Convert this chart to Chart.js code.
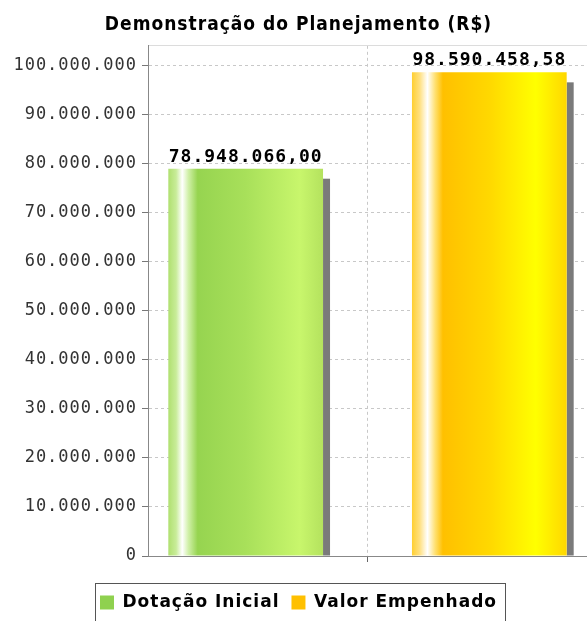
<!DOCTYPE html>
<html lang="pt-BR">
<head>
<meta charset="utf-8">
<title>Demonstração do Planejamento (R$)</title>
<script src="https://cdn.jsdelivr.net/npm/chart.js@4.4.1/dist/chart.umd.min.js"></script>
<style>
  html, body { margin: 0; padding: 0; background: #fff; }
  #wrap { position: relative; width: 587px; height: 621px; overflow: hidden; }
</style>
</head>
<body>
<div id="wrap"><canvas id="plano"></canvas></div>
<script>
// dados
const chartTitle = 'Demonstração do Planejamento (R$)';
const categories = [''];
const seriesNames = ['Dotação Inicial', 'Valor Empenhado'];
const seriesValues = [78948066.00, 98590458.58];
const tickValues = [0, 10000000, 20000000, 30000000, 40000000, 50000000,
                    60000000, 70000000, 80000000, 90000000, 100000000];
const axisMax = 104000000;

const legendColors = ['#8fd14f', '#ffc000'];
const gradientStops = [
    [[0, '#b0e070'], [0.05, '#c8ec98'], [0.09, '#ffffff'], [0.13, '#d0f0a8'], [0.19, '#96d450'],
     [0.5, '#a8e05a'], [0.85, '#c8f66c'], [1, '#b4e25e']],
    [[0, '#ffcf30'], [0.05, '#ffe080'], [0.1, '#ffffff'], [0.15, '#ffe070'], [0.2, '#ffc000'],
     [0.5, '#ffd800'], [0.8, '#ffff00'], [1, '#ffd700']]
];
const catPct = 1.11;
const barPct = 0.635;

function groupThousands(intStr) {
    return intStr.replace(/\B(?=(\d{3})+(?!\d))/g, '.');
}

function formatReal(v) {
    const parts = v.toFixed(2).split('.');
    return groupThousands(parts[0]) + ',' + parts[1];
}

const isFrame = (c) => !!(c.tick && c.tick.value === axisMax);

// degradê horizontal de cada barra, a partir da escala x
function barFill(i) {
    return (ctx) => {
        const chart = ctx.chart;
        const xs = chart.scales.x;
        if (ctx.type !== 'data' || !xs || !chart.chartArea) return legendColors[i];
        const slot = xs.width * catPct / seriesNames.length;
        const center = xs.getPixelForValue(ctx.dataIndex) - xs.width * catPct / 2 + slot * (i + 0.5);
        const w = slot * barPct;
        const g = chart.ctx.createLinearGradient(center - w / 2, 0, center + w / 2, 0);
        gradientStops[i].forEach(([o, c]) => g.addColorStop(o, c));
        return g;
    };
}

// espaçamento das letras como no original
const spacingPlugin = {
    id: 'spacing',
    beforeUpdate(chart) { chart.ctx.letterSpacing = '1px'; },
    beforeDraw(chart) { chart.ctx.letterSpacing = '1px'; }
};

// sombra cinza à direita das barras
const shadowPlugin = {
    id: 'shadow',
    beforeDatasetsDraw(chart) {
        const ctx = chart.ctx;
        ctx.save();
        ctx.fillStyle = '#7a7a7a';
        chart.data.datasets.forEach((ds, i) => {
            chart.getDatasetMeta(i).data.forEach((bar, j) => {
                if (ds.data[j] == null) return;
                const { x, y, base, width } = bar.getProps(['x', 'y', 'base', 'width'], true);
                ctx.fillRect(x + width / 2, y + 10, 7, base - y - 10);
            });
        });
        ctx.restore();
    }
};

// valores acima das barras
const valueLabelPlugin = {
    id: 'valueLabels',
    afterDatasetsDraw(chart) {
        const ctx = chart.ctx;
        ctx.save();
        ctx.font = 'bold 18px "DejaVu Sans Mono"';
        ctx.fillStyle = '#000';
        ctx.textAlign = 'center';
        ctx.textBaseline = 'alphabetic';
        chart.data.datasets.forEach((ds, i) => {
            chart.getDatasetMeta(i).data.forEach((bar, j) => {
                if (ds.data[j] == null) return;
                const { x, y } = bar.getProps(['x', 'y'], true);
                ctx.fillText(formatReal(ds.data[j]), x, y - 7);
            });
        });
        ctx.restore();
    }
};

// moldura da legenda
const legendBoxPlugin = {
    id: 'legendBox',
    afterDraw(chart) {
        const lg = chart.legend;
        if (!lg || !lg.legendHitBoxes || !lg.legendHitBoxes.length) return;
        const boxes = lg.legendHitBoxes;
        const left = boxes[0].left - 5;
        const last = boxes[boxes.length - 1];
        const right = last.left + last.width + 8;
        const top = boxes[0].top - 11;
        const ctx = chart.ctx;
        ctx.save();
        ctx.strokeStyle = '#555';
        ctx.lineWidth = 1;
        ctx.strokeRect(Math.round(left) + 0.5, Math.round(top) + 0.5, Math.round(right - left), 60);
        ctx.restore();
    }
};

const datasets = seriesNames.map((name, i) => ({
    label: name,
    data: [seriesValues[i]],
    backgroundColor: barFill(i),
    borderWidth: 0,
    categoryPercentage: catPct,
    barPercentage: barPct
}));

new Chart(document.getElementById('plano'), {
    type: 'bar',
    data: { labels: categories, datasets },
    plugins: [spacingPlugin, shadowPlugin, valueLabelPlugin, legendBoxPlugin],
    options: {
        responsive: true,
        maintainAspectRatio: false,
        animation: false,
        layout: { padding: { left: 10, right: 0, top: 0, bottom: 0 } },
        plugins: {
            title: {
                display: true,
                text: chartTitle,
                color: '#000',
                font: { family: '"DejaVu Sans Condensed", "DejaVu Sans"', size: 19, weight: 'bold' },
                padding: { top: 14, bottom: 9 }
            },
            legend: {
                position: 'bottom',
                labels: {
                    color: '#000',
                    font: { family: '"DejaVu Sans"', size: 17, weight: 'bold' },
                    boxWidth: 14,
                    boxHeight: 14,
                    padding: 12,
                    generateLabels(chart) {
                        const items = Chart.defaults.plugins.legend.labels.generateLabels(chart);
                        items.forEach((it, i) => {
                            it.fillStyle = legendColors[i];
                            it.strokeStyle = legendColors[i];
                            it.lineWidth = 0;
                        });
                        return items;
                    }
                }
            },
            tooltip: { enabled: false }
        },
        scales: {
            x: {
                grid: {
                    color: '#c8c8c8',
                    tickColor: '#666',
                    tickLength: 6,
                    offset: false
                },
                border: { color: '#888', dash: [3, 3] },
                ticks: { callback: () => '' },
                afterFit(scale) { scale.height = 26; }
            },
            y: {
                min: 0,
                max: axisMax,
                grid: {
                    color: (c) => (isFrame(c) ? '#dcdcdc' : '#c8c8c8'),
                    tickColor: (c) => (isFrame(c) ? 'rgba(0,0,0,0)' : '#777'),
                    tickLength: 6
                },
                border: {
                    color: '#888',
                    dash: (c) => (isFrame(c) ? [] : [3, 3])
                },
                ticks: {
                    autoSkip: false,
                    color: '#333',
                    padding: 5,
                    font: { family: '"DejaVu Sans Mono"', size: 17 },
                    callback: (v) => (v === axisMax ? '' : groupThousands(String(v)))
                },
                afterBuildTicks(scale) {
                    scale.ticks = tickValues.concat([axisMax]).map((v) => ({ value: v }));
                },
                afterFit(scale) { scale.width = 138; }
            }
        }
    }
});
</script>
</body>
</html>
